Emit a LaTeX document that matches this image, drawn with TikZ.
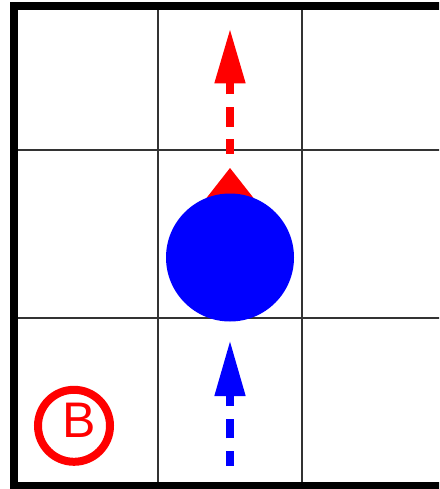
\documentclass[tikz,border=0pt]{standalone}
\usepackage{fontspec}
\newfontfamily\labelfont{Liberation Sans}
\definecolor{gridgray}{HTML}{333333}
\tikzset{
  gridline/.style={draw=gridgray, line width=1.7pt},
  framebox/.style={draw=black, line width=8pt},
  trail/.style={line width=8pt, dash pattern=on 19.8pt off 12.6pt, dash phase=5.1pt},
}
\begin{document}
\begin{tikzpicture}[x=1pt,y=-1pt]
\useasboundingbox (0,0) rectangle (439,489);
\begin{scope}
\clip (0,0) rectangle (439,489);
% grid
\draw[gridline] (158,6) -- (158,486.3);
\draw[gridline] (302,6) -- (302,486.3);
\draw[gridline] (14,150) -- (446,150);
\draw[gridline] (14,318) -- (446,318);
% frame
\draw[framebox] (14,6) rectangle (446,486.3);
% red heading triangle behind robot
\fill[red] (230,168) -- (259.8,206) -- (200.2,206) -- cycle;
% robot
\node[circle, fill=blue, minimum size=128pt, inner sep=0pt] (robot) at (230,257.5) {};
% red dashed arrow
\coordinate (rs) at (230,154);
\coordinate (re) at (230,83.3);
\coordinate (rt) at (230,30);
\draw[trail, red] (rs) -- (re);
\fill[red] (rt) -- (245.7,83.3) -- (214.3,83.3) -- cycle;
% blue dashed arrow
\coordinate (bs) at (230,465.7);
\coordinate (be) at (230,396);
\coordinate (bt) at (230,341.7);
\draw[trail, blue] (bs) -- (be);
\fill[blue] (bt) -- (245.7,396) -- (214.3,396) -- cycle;
% B mark
\node[circle, draw=red, line width=8pt, minimum size=72pt, inner sep=0pt] (bring) at (74,425.8) {};
\node[text=red, font=\labelfont\fontsize{50}{60}\selectfont, inner sep=0pt] (blabel) at (79.5,420.5) {B};
\end{scope}
\end{tikzpicture}
\end{document}
